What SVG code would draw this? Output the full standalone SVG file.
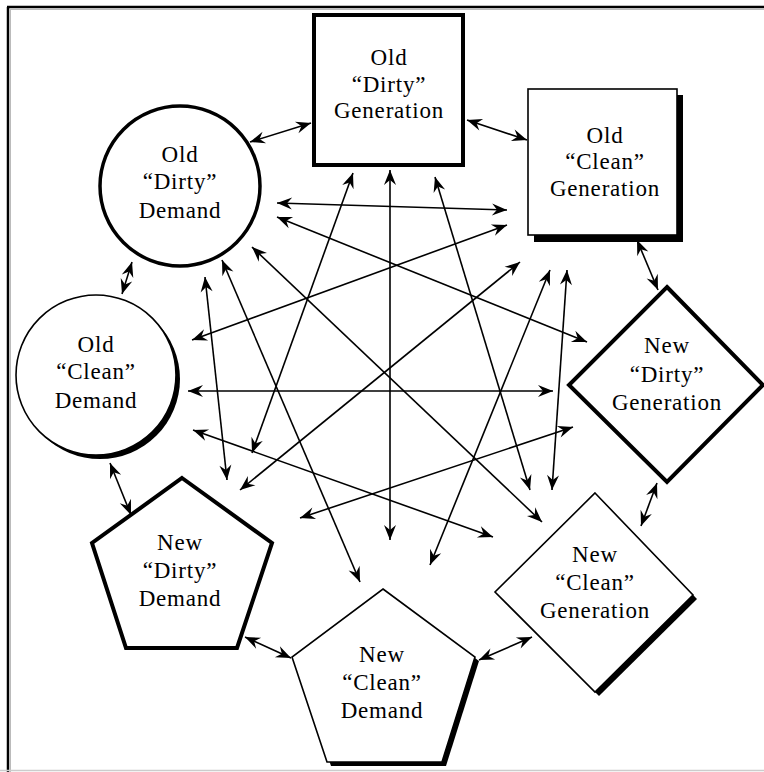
<svg xmlns="http://www.w3.org/2000/svg" width="764" height="772" viewBox="0 0 764 772">
  <defs>
    <marker id="head" viewBox="-17 -8 19 16" refX="0" refY="0" markerWidth="19" markerHeight="16" markerUnits="userSpaceOnUse" orient="auto-start-reverse">
      <path d="M0,0 L-15,-6 L-10,0 L-15,6 Z" fill="#000"/>
    </marker>
  </defs>
  <style>
    text { font-size: 23px; fill: #000; text-anchor: middle; letter-spacing: 0.8px; }
    .thick { fill: #fff; stroke: #000; stroke-width: 4; stroke-linejoin: miter; }
    .thin { fill: #fff; stroke: #000; stroke-width: 1.6; }
    .shadow { fill: #000; stroke: none; }
    .link { stroke: #000; stroke-width: 1.6; fill: none; marker-start: url(#head); marker-end: url(#head); }
  </style>

  <!-- frame -->
  <rect x="0" y="0" width="764" height="772" fill="#fff"/>
  <line x1="7" y1="7" x2="764" y2="7" stroke="#000" stroke-width="2.5"/>
  <line x1="8" y1="7" x2="8" y2="772" stroke="#000" stroke-width="2.5"/>
  <line x1="10" y1="9.5" x2="764" y2="9.5" stroke="#bbb" stroke-width="1"/>
  <line x1="10.5" y1="10" x2="10.5" y2="772" stroke="#bbb" stroke-width="1"/>
  <line x1="0" y1="770.5" x2="764" y2="770.5" stroke="#ccc" stroke-width="1.5"/>

  <!-- connectors -->
  <g id="connectors">
    <line class="link" x1="250" y1="142" x2="311" y2="123"/>
    <line class="link" x1="467" y1="120" x2="527" y2="140"/>
    <line class="link" x1="637" y1="240" x2="658" y2="290"/>
    <line class="link" x1="657" y1="483" x2="641" y2="526"/>
    <line class="link" x1="479" y1="660" x2="532" y2="637"/>
    <line class="link" x1="245" y1="637" x2="291" y2="658"/>
    <line class="link" x1="110" y1="463" x2="131" y2="515"/>
    <line class="link" x1="122" y1="294" x2="132" y2="262"/>

    <line class="link" x1="390" y1="170" x2="390" y2="540"/>
    <line class="link" x1="188" y1="391" x2="553" y2="391"/>
    <line class="link" x1="277" y1="203" x2="507" y2="210"/>
    <line class="link" x1="277" y1="217" x2="587" y2="342"/>
    <line class="link" x1="192" y1="340" x2="507" y2="225"/>
    <line class="link" x1="252" y1="247" x2="542" y2="522"/>
    <line class="link" x1="222" y1="260" x2="360" y2="582"/>
    <line class="link" x1="205" y1="277" x2="227" y2="480"/>
    <line class="link" x1="353" y1="173" x2="252" y2="453"/>
    <line class="link" x1="435" y1="177" x2="530" y2="490"/>
    <line class="link" x1="193" y1="430" x2="493" y2="537"/>
    <line class="link" x1="240" y1="490" x2="520" y2="262"/>
    <line class="link" x1="567" y1="270" x2="552" y2="490"/>
    <line class="link" x1="550" y1="270" x2="430" y2="565"/>
    <line class="link" x1="300" y1="518" x2="573" y2="427"/>
  </g>

  <g font-family="'Liberation Serif', 'DejaVu Serif', serif">
  <!-- Old "Dirty" Generation -->
  <g id="old-dirty-generation">
    <rect class="thick" x="314" y="15" width="149" height="150"/>
    <text x="389" y="65">Old</text>
    <text x="389" y="92">“Dirty”</text>
    <text x="389" y="118">Generation</text>
  </g>

  <!-- Old "Clean" Generation -->
  <g id="old-clean-generation">
    <rect class="shadow" x="534" y="95" width="149" height="147"/>
    <rect class="thin" x="528" y="89" width="149" height="146"/>
    <text x="605" y="143">Old</text>
    <text x="605" y="169">“Clean”</text>
    <text x="605" y="196">Generation</text>
  </g>

  <!-- Old "Dirty" Demand -->
  <g id="old-dirty-demand">
    <circle cx="180" cy="186" r="80" fill="#fff" stroke="#000" stroke-width="3.5"/>
    <text x="180" y="162">Old</text>
    <text x="180" y="189">“Dirty”</text>
    <text x="180" y="218">Demand</text>
  </g>

  <!-- Old "Clean" Demand -->
  <g id="old-clean-demand">
    <circle class="shadow" cx="100" cy="379" r="80"/>
    <circle class="thin" cx="96" cy="375" r="80"/>
    <text x="96" y="352">Old</text>
    <text x="96" y="379">“Clean”</text>
    <text x="96" y="408">Demand</text>
  </g>

  <!-- New "Dirty" Generation -->
  <g id="new-dirty-generation">
    <polygon class="thick" points="667,287 763,385 667,482 569,385"/>
    <text x="667" y="353">New</text>
    <text x="667" y="382">“Dirty”</text>
    <text x="667" y="410">Generation</text>
  </g>

  <!-- New "Clean" Generation -->
  <g id="new-clean-generation">
    <polygon class="shadow" points="599,497 697,599 599,696 499,596"/>
    <polygon class="thin" points="595,493 693,595 595,692 495,592"/>
    <text x="595" y="562">New</text>
    <text x="595" y="590">“Clean”</text>
    <text x="595" y="618">Generation</text>
  </g>

  <!-- New "Dirty" Demand -->
  <g id="new-dirty-demand">
    <polygon class="thick" points="182,478 272,543 237,648 126,648 92,543"/>
    <text x="180" y="550">New</text>
    <text x="180" y="578">“Dirty”</text>
    <text x="180" y="606">Demand</text>
  </g>

  <!-- New "Clean" Demand -->
  <g id="new-clean-demand">
    <polygon class="shadow" points="387,593 479,661 446,766 331,766 296,661"/>
    <polygon class="thin" points="383,589 475,657 442,762 327,762 292,657"/>
    <text x="382" y="662">New</text>
    <text x="382" y="690">“Clean”</text>
    <text x="382" y="718">Demand</text>
  </g>
  </g>
</svg>
